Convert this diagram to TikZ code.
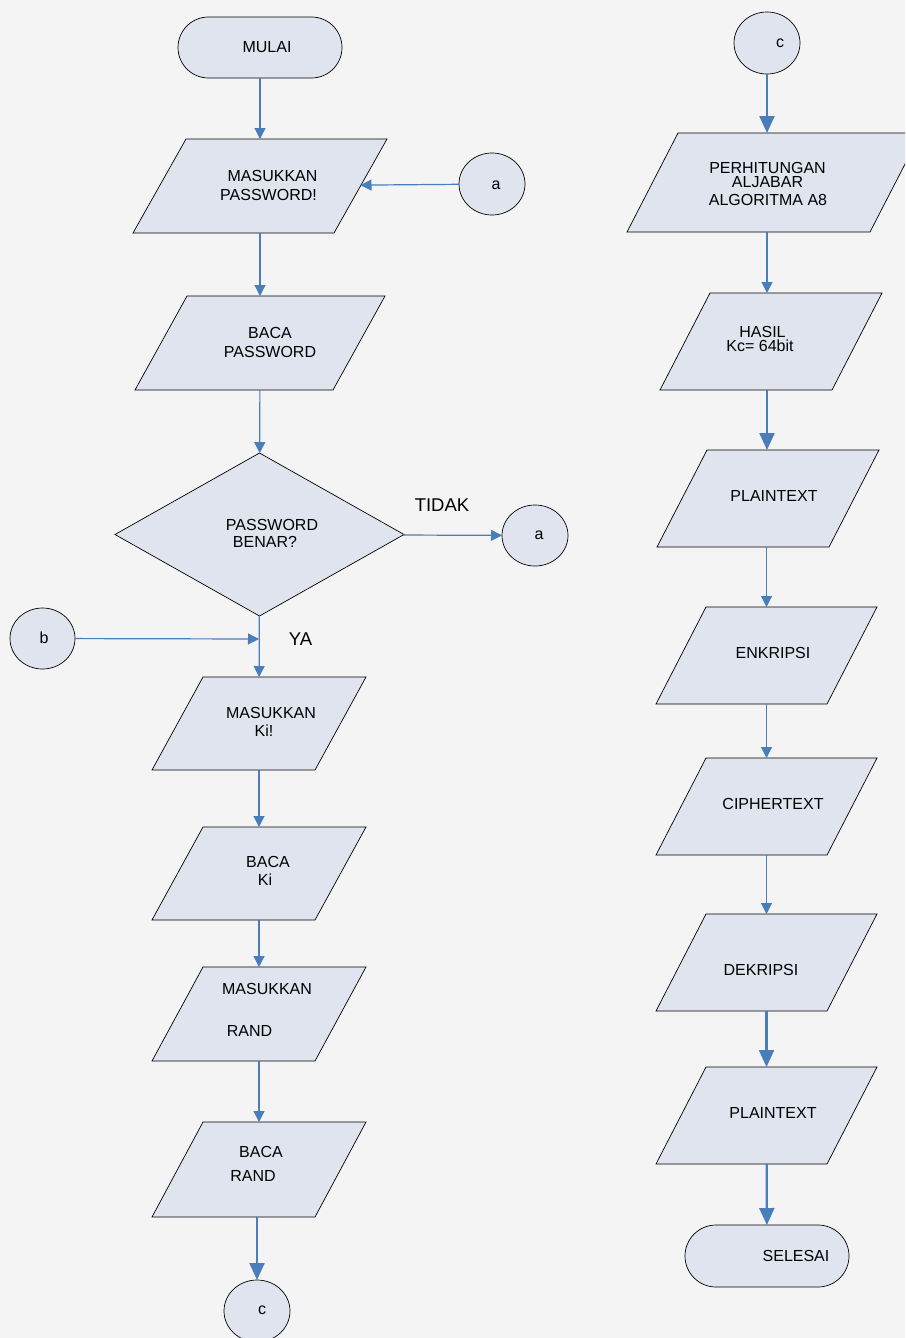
\documentclass[tikz,border=0pt]{standalone}
\usepackage{fontspec}
\setmainfont{Liberation Sans}
\usetikzlibrary{shapes.geometric,shapes.misc,arrows.meta}
\definecolor{shp}{RGB}{223,228,238}
\definecolor{arw}{RGB}{74,126,187}
\definecolor{bg}{RGB}{244,244,244}
\newcommand\pgmshape[2]{%
  \draw[pg] ([xshift=#2pt]#1.north west) -- ([xshift=#2pt]#1.north east)
    -- ([xshift=-#2pt]#1.south east) -- ([xshift=-#2pt]#1.south west) -- cycle;}
\begin{document}
\begin{tikzpicture}[x=1pt,y=-1pt,
 base/.style={draw=black,line width=0.7pt,fill=shp,inner sep=0pt,outer sep=0pt},
 pg/.style={draw=black,line width=0.7pt,fill=shp,line join=miter},
 term/.style={base,rounded rectangle,minimum width=164pt,minimum height=61pt},
 io/.style={rectangle,draw=none,inner sep=0pt,outer sep=0pt},
 conn/.style={base,ellipse,minimum width=66pt,minimum height=62pt},
 dec/.style={base,diamond,aspect=1.77,minimum width=289pt,minimum height=163pt},
 t/.style={font=\fontsize{16}{18}\selectfont,inner sep=0pt},
 tl/.style={font=\fontsize{18.5}{20}\selectfont,inner sep=0pt},
 arr/.style={draw=arw,line width=1.2pt,-{Triangle[length=11pt,width=11pt]}},
 tarr/.style={draw=arw,line width=2.3pt,-{Triangle[length=17pt,width=15pt]}},
]
\useasboundingbox (0,0) rectangle (905,1338);
\clip (0,0) rectangle (905,1338);
\fill[bg] (0,0) rectangle (905,1338);

% left column shapes
\node[term] (start) at (260,47.5) {};
\node[io,minimum width=201pt,minimum height=94pt] (p1) at (260,186) {};
\pgmshape{p1}{26.5}
\node[conn] (a1) at (492,184) {};
\node[io,minimum width=198pt,minimum height=94pt] (p2) at (260,343) {};
\pgmshape{p2}{26}
\node[dec] (d) at (259.5,534.5) {};
\node[conn,minimum height=61pt] (a2) at (535,535.5) {};
\node[conn,minimum width=65pt,minimum height=61pt] (b) at (42.5,638.5) {};
\coordinate (j) at (259,639);
\node[io,minimum width=163pt,minimum height=93pt] (p3) at (259,723.5) {};
\pgmshape{p3}{25.5}
\node[io,minimum width=163pt,minimum height=93pt] (p4) at (259,873.5) {};
\pgmshape{p4}{25.5}
\node[io,minimum width=163pt,minimum height=94pt] (p5) at (259,1014) {};
\pgmshape{p5}{25.5}
\node[io,minimum width=163pt,minimum height=95pt] (p6) at (259,1169.5) {};
\pgmshape{p6}{25.5}
\node[conn] (c1) at (257,1311) {};

% right column shapes
\node[conn] (c2) at (767,43) {};
\node[io,minimum width=243pt,minimum height=99pt] (p7) at (774,182.5) {};
\pgmshape{p7}{25.5}
\node[io,minimum width=172pt,minimum height=97pt] (p8) at (771,341.5) {};
\pgmshape{p8}{25}
\node[io,minimum width=172pt,minimum height=97pt] (p9) at (768,498.5) {};
\pgmshape{p9}{25}
\node[io,minimum width=171pt,minimum height=97pt] (p10) at (766.5,655.5) {};
\pgmshape{p10}{25}
\node[io,minimum width=171pt,minimum height=97pt] (p11) at (766.5,806.5) {};
\pgmshape{p11}{25}
\node[io,minimum width=171pt,minimum height=97pt] (p12) at (766.5,962.5) {};
\pgmshape{p12}{25}
\node[io,minimum width=171pt,minimum height=97pt] (p13) at (766.5,1115.5) {};
\pgmshape{p13}{25}
\node[term,minimum height=62pt] (end) at (767,1256) {};

% connectors left
\draw[arr] (start) -- (p1);
\draw[arr] (a1) -- (p1);
\draw[arr] (p1) -- (p2);
\draw[arr] (p2) -- (d);
\draw[arr] (d) -- (a2);
\draw[arr] (d) -- (p3);
\draw[arr] (b) -- (j);
\draw[arr] (p3) -- (p4);
\draw[arr] (p4) -- (p5);
\draw[arr] (p5) -- (p6);
\draw[tarr] (p6.south -| c1) -- (c1);

% connectors right
\draw[tarr] (c2) -- (c2 |- p7.north);
\draw[arr] (p7.south -| c2) -- (p8.north -| c2);
\draw[tarr] (p8.south -| c2) -- (p9.north -| c2);
\draw[arr] (p9.south -| p10) -- (p10);
\draw[arr] (p10) -- (p11);
\draw[arr] (p11) -- (p12);
\draw[tarr] (p12) -- (p13);
\draw[tarr] (p13) -- (end);

% texts left
\node[t] (tstart) at (267,47) {MULAI};
\node[t] (t1a) at (272.5,176) {MASUKKAN};
\node[t] (t1b) at (268.5,195) {PASSWORD!};
\node[t] (ta1) at (496,185) {a};
\node[t] (t2a) at (270,333) {BACA};
\node[t] (t2b) at (270,352) {PASSWORD};
\node[t] (tda) at (272,524.5) {PASSWORD};
\node[t] (tdb) at (265,542) {BENAR?};
\node[tl] (ttidak) at (442,505) {TIDAK};
\node[t] (ta2) at (539,535) {a};
\node[t] (tb) at (44,638) {b};
\node[tl] (tya) at (300.5,639) {YA};
\node[t] (t3a) at (271,713) {MASUKKAN};
\node[t] (t3b) at (264,731) {Ki!};
\node[t] (t4a) at (268,862) {BACA};
\node[t] (t4b) at (265,880) {Ki};
\node[t] (t5a) at (267,989) {MASUKKAN};
\node[t] (t5b) at (249.5,1031) {RAND};
\node[t] (t6a) at (261,1152) {BACA};
\node[t] (t6b) at (253,1176) {RAND};
\node[t] (tc1) at (262,1310.5) {c};

% texts right
\node[t] (tc2) at (780,43) {c};
\node[t] (t7a) at (767.5,167.5) {PERHITUNGAN};
\node[t] (t7b) at (767.5,182.5) {ALJABAR};
\node[t] (t7c) at (768,199.5) {ALGORITMA A8};
\node[t] (t8a) at (762.5,331.5) {HASIL};
\node[t] (t8b) at (760,345.5) {Kc= 64bit};
\node[t] (t9) at (774,496) {PLAINTEXT};
\node[t] (t10) at (773,653) {ENKRIPSI};
\node[t] (t11) at (773,804) {CIPHERTEXT};
\node[t] (t12) at (761,970) {DEKRIPSI};
\node[t] (t13) at (773,1113) {PLAINTEXT};
\node[t] (tend) at (796,1255.5) {SELESAI};
\end{tikzpicture}
\end{document}
